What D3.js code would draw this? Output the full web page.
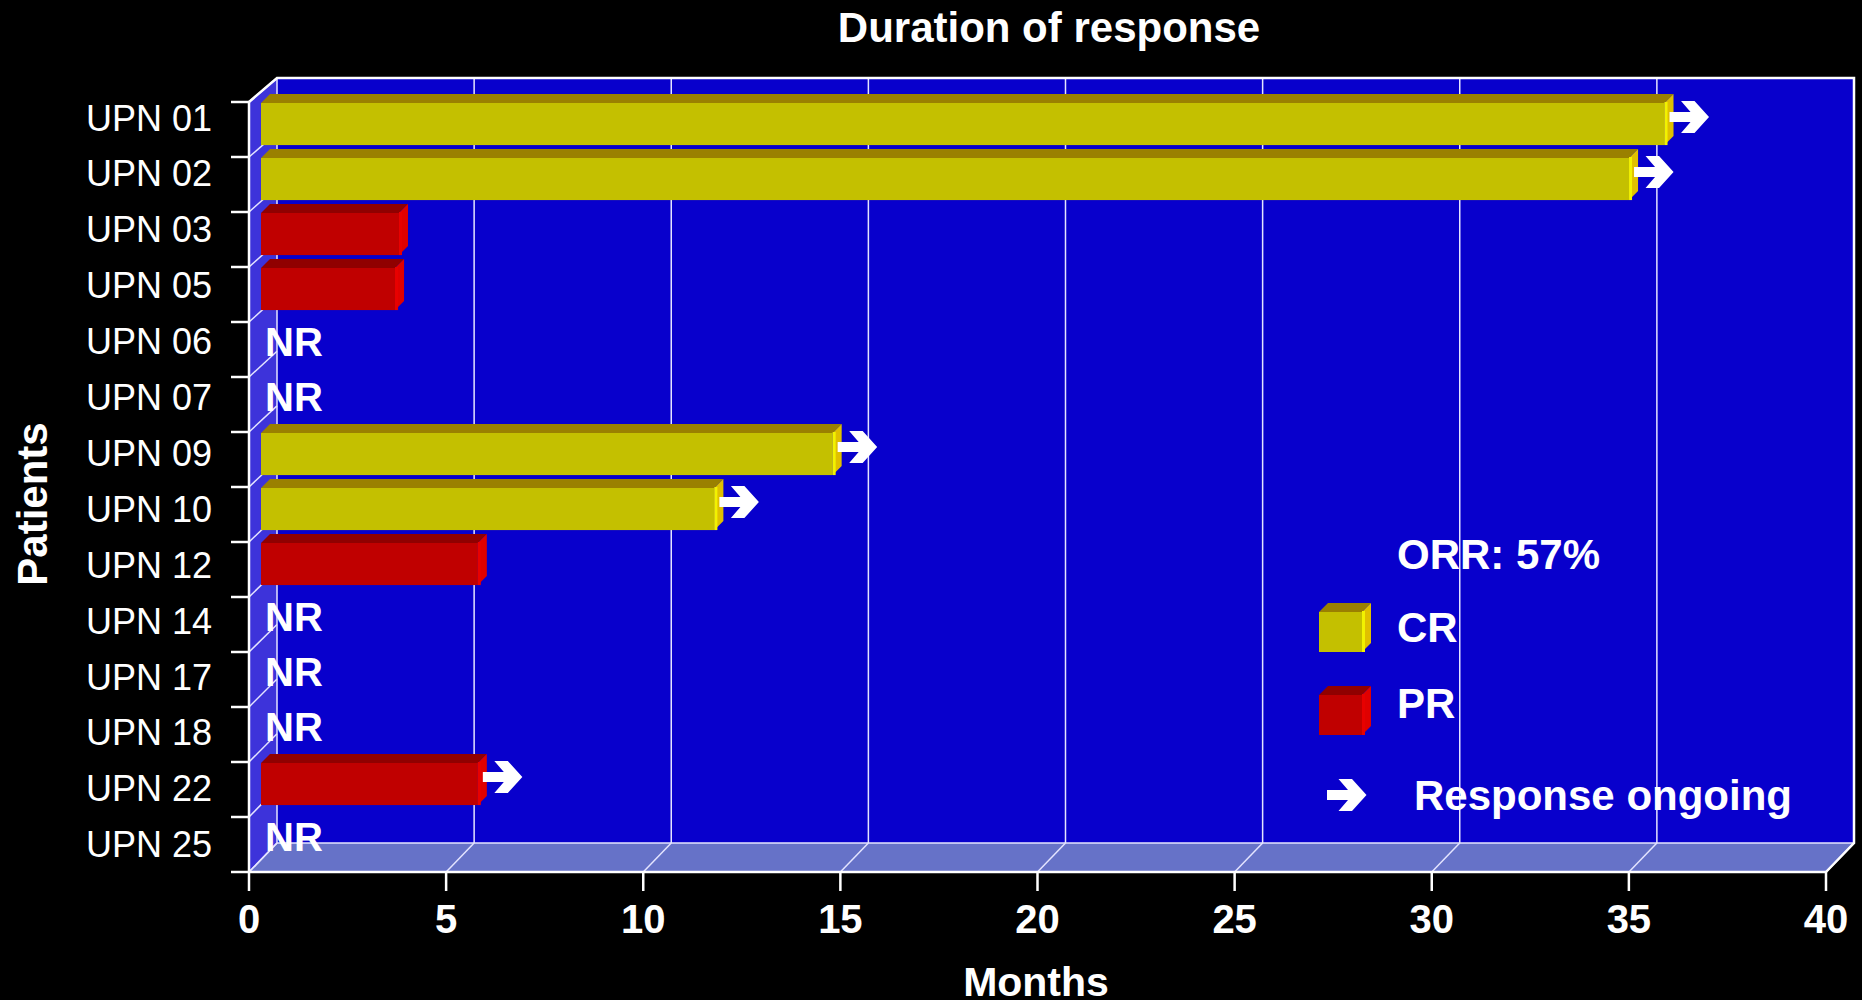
<!DOCTYPE html>
<html>
<head>
<meta charset="utf-8">
<script src="https://cdn.jsdelivr.net/npm/d3@7"></script>
<style>
  body { margin: 0; background: #000; }
  svg { display: block; }
  text { font-family: "Liberation Sans", Arial, sans-serif; fill: #fff; }
</style>
</head>
<body>
<svg width="1862" height="1000"></svg>
<script>
// data
const patients = ["UPN 01", "UPN 02", "UPN 03", "UPN 05", "UPN 06", "UPN 07", "UPN 09",
                  "UPN 10", "UPN 12", "UPN 14", "UPN 17", "UPN 18", "UPN 22", "UPN 25"];
const durations = [35.6, 34.7, 3.5, 3.4, null, null, 14.5, 11.5, 5.5, null, null, null, 5.5, null];
const responses = ["CR", "CR", "PR", "PR", "NR", "NR", "CR", "CR", "PR", "NR", "NR", "NR", "PR", "NR"];
const ongoing = [true, true, false, false, false, false, true, true, false, false, false, false, true, false];
const xTicks = [0, 5, 10, 15, 20, 25, 30, 35, 40];

const colors = {
  CR: { front: "#c4c000", top: "#9a8000", side: "#e0c000", edge: "#f2f200" },
  PR: { front: "#c00000", top: "#900000", side: "#e00000", edge: "#e80000" }
};

const svg = d3.select("svg");
svg.append("rect").attr("width", 1862).attr("height", 1000).attr("fill", "#000");

// scales: front plane and the receding back plane
const x = d3.scaleLinear().domain([0, 40]).range([249, 1826]);
const y = d3.scaleBand().domain(patients).range([102, 872]);
const yBack = d3.scaleLinear().domain([102, 872]).range([78, 843]);
const labelY = d3.scalePoint().domain(patients).range([117.5, 844.3]);
const dx = 28;

const yTop = y.range()[0], yBot = y.range()[1];
const boundaries = patients.map(p => y(p)).concat([yBot]);

// walls
svg.append("rect")
   .attr("x", x(0) + dx).attr("y", yBack(yTop))
   .attr("width", x(40) - x(0)).attr("height", yBack(yBot) - yBack(yTop))
   .attr("fill", "#0800cc");

svg.append("path")
   .attr("d", `M${x(0)},${yTop}L${x(0) + dx},${yBack(yTop)}L${x(0) + dx},${yBack(yBot)}L${x(0)},${yBot}Z`)
   .attr("fill", "#3d33da");

svg.append("path")
   .attr("d", `M${x(0)},${yBot}L${x(40)},${yBot}L${x(40) + dx},${yBack(yBot)}L${x(0) + dx},${yBack(yBot)}Z`)
   .attr("fill", "#6672c8");

// grid lines on back wall and floor
const grid = svg.append("g").attr("stroke", "#e4e4ff").attr("stroke-width", 1.5);
xTicks.forEach(v => {
  grid.append("line")
      .attr("x1", x(v) + dx).attr("x2", x(v) + dx)
      .attr("y1", yBack(yTop)).attr("y2", yBack(yBot));
  grid.append("line")
      .attr("x1", x(v)).attr("y1", yBot)
      .attr("x2", x(v) + dx).attr("y2", yBack(yBot));
});
boundaries.forEach(t => {
  grid.append("line")
      .attr("x1", x(0)).attr("y1", t)
      .attr("x2", x(0) + dx).attr("y2", yBack(t));
});
grid.append("line")
    .attr("x1", x(0) + dx).attr("x2", x(40) + dx)
    .attr("y1", yBack(yBot)).attr("y2", yBack(yBot));

// frame
const frame = svg.append("g").attr("stroke", "#fff").attr("stroke-width", 2.5).attr("fill", "none");
frame.append("path")
     .attr("d", `M${x(0)},${yTop}L${x(0) + dx},${yBack(yTop)}L${x(40) + dx},${yBack(yTop)}L${x(40) + dx},${yBack(yBot)}L${x(40)},${yBot}`);
frame.append("line").attr("x1", x(0)).attr("x2", x(0)).attr("y1", yTop).attr("y2", yBot + 1);
frame.append("line").attr("x1", x(0)).attr("x2", x(40)).attr("y1", yBot).attr("y2", yBot);
boundaries.forEach(t => {
  frame.append("line").attr("x1", x(0) - 18).attr("x2", x(0)).attr("y1", t).attr("y2", t);
});
xTicks.forEach(v => {
  frame.append("line").attr("x1", x(v)).attr("x2", x(v)).attr("y1", yBot).attr("y2", yBot + 19);
});

// 3D box helper
function box(g, x0, x1, yt, h, c) {
  const d = 9;
  g.append("rect").attr("x", x0).attr("y", yt).attr("width", x1 - x0).attr("height", h).attr("fill", c.front);
  g.append("path")
   .attr("d", `M${x0},${yt}L${x0 + d},${yt - d}L${x1 + d},${yt - d}L${x1},${yt}Z`)
   .attr("fill", c.top);
  g.append("path")
   .attr("d", `M${x1},${yt}L${x1 + d},${yt - d}L${x1 + d},${yt + h - d}L${x1},${yt + h}Z`)
   .attr("fill", c.side);
  g.append("line")
   .attr("x1", x1 + 1.5).attr("x2", x1 + 1.5).attr("y1", yt - 1).attr("y2", yt + h)
   .attr("stroke", c.edge).attr("stroke-width", 3);
}

const arrowPath = "M0,-5L21,-5L11.5,-16L25,-16L39.5,0L25,16L11.5,16L21,5L0,5Z";

// bars
const bars = svg.append("g");
patients.forEach((p, i) => {
  const v = durations[i];
  if (v == null) return;
  const x0 = x(0) + 12, x1 = x(v) + 12;
  const yt = y(p) + 1, h = y.bandwidth() * 0.765;
  box(bars, x0, x1, yt, h, colors[responses[i]]);
  if (ongoing[i]) {
    bars.append("path")
        .attr("d", arrowPath)
        .attr("transform", `translate(${x1 + 5},${y(p) + 15})`)
        .attr("fill", "#fff");
  }
});

// NR labels
patients.forEach((p, i) => {
  if (responses[i] !== "NR") return;
  svg.append("text")
     .attr("x", x(0) + 16).attr("y", y(p) + 34)
     .style("font-size", "40px").style("font-weight", "bold")
     .text("NR");
});

// axis labels
svg.append("g").selectAll("text")
   .data(patients).enter().append("text")
   .attr("x", 212).attr("y", d => labelY(d) + 13)
   .attr("text-anchor", "end")
   .style("font-size", "36px")
   .text(d => d);

svg.append("g").selectAll("text")
   .data(xTicks).enter().append("text")
   .attr("x", d => x(d)).attr("y", 933)
   .attr("text-anchor", "middle")
   .style("font-size", "40px").style("font-weight", "bold")
   .text(d => d);

svg.append("text")
   .attr("x", 1049).attr("y", 42).attr("text-anchor", "middle")
   .style("font-size", "42px").style("font-weight", "bold")
   .text("Duration of response");

svg.append("text")
   .attr("x", 1036).attr("y", 996).attr("text-anchor", "middle")
   .style("font-size", "41px").style("font-weight", "bold")
   .text("Months");

svg.append("text")
   .attr("transform", "translate(47,504) rotate(-90)")
   .attr("text-anchor", "middle")
   .style("font-size", "42px").style("font-weight", "bold")
   .text("Patients");

// legend
const legend = svg.append("g").style("font-size", "42px").style("font-weight", "bold");
legend.append("text").attr("x", 1397).attr("y", 569).text("ORR: 57%");
box(legend, 1319, 1362, 612, 40, colors.CR);
legend.append("text").attr("x", 1397).attr("y", 642).text("CR");
box(legend, 1319, 1362, 695, 40, colors.PR);
legend.append("text").attr("x", 1397).attr("y", 718).text("PR");
legend.append("path").attr("d", arrowPath)
      .attr("transform", "translate(1327,795)").attr("fill", "#fff");
legend.append("text").attr("x", 1414).attr("y", 810).text("Response ongoing");
</script>
</body>
</html>
